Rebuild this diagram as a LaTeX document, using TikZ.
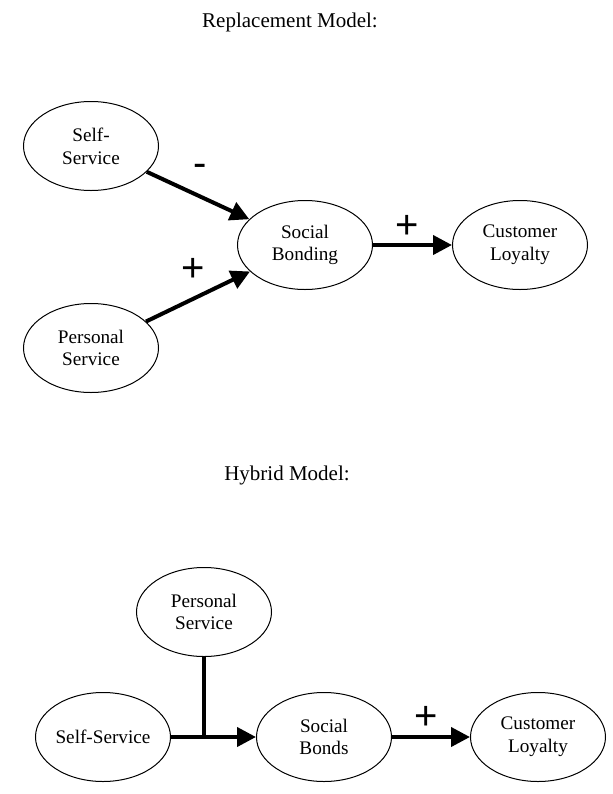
\documentclass[tikz,border=0pt]{standalone}
\usepackage{fontspec}
\setmainfont{Liberation Serif}
\newfontfamily\signfont{Liberation Sans}
\usetikzlibrary{shapes.geometric,arrows.meta}

\tikzset{
  factor/.style={ellipse,draw,line width=0.5pt,inner sep=0pt,minimum width=67.5pt,
    minimum height=44.5pt,align=center,font=\fontsize{9.6}{11.4}\selectfont},
  link/.style={line width=2pt,-{Triangle[length=9.5pt,width=9.5pt]}},
  sign/.style={font=\signfont\fontsize{20}{20}\selectfont},
  title/.style={font=\fontsize{10.5}{12}\selectfont}
}

\begin{document}
\begin{tikzpicture}[x=0.5pt,y=-0.5pt]
  \useasboundingbox (0,0) rectangle (613,794);

  % replacement model
  \node[title] (t1) at (290,22) {Replacement Model:};
  \node[factor] (ss1) at (91,146) {Self-\\Service};
  \node[factor] (ps1) at (91,348) {Personal\\Service};
  \node[factor] (sb1) at (305,245) {Social\\Bonding};
  \node[factor] (cl1) at (520,245) {Customer\\Loyalty};

  \draw[link] (ss1) -- (sb1);
  \draw[link] (ps1) -- (sb1);
  \draw[link] (sb1) -- (cl1);

  \node[sign] (m1) at (200,170) {-};
  \node[sign] (p1) at (193,270) {+};
  \node[sign] (p2) at (407,227) {+};

  % hybrid model
  \node[title] (t2) at (287,475) {Hybrid Model:};
  \node[factor] (ps2) at (204,612) {Personal\\Service};
  \node[factor] (ss2) at (103,737) {Self-Service};
  \node[factor] (sb2) at (324,737) {Social\\Bonds};
  \node[factor] (cl2) at (538,737) {Customer\\Loyalty};
  \coordinate (j2) at (ps2 |- ss2);

  \draw[link] (ss2) -- (sb2);
  \draw[line width=2pt] (ps2) -- (j2);
  \draw[link] (sb2) -- (cl2);

  \node[sign] (p3) at (426,718) {+};
\end{tikzpicture}
\end{document}
